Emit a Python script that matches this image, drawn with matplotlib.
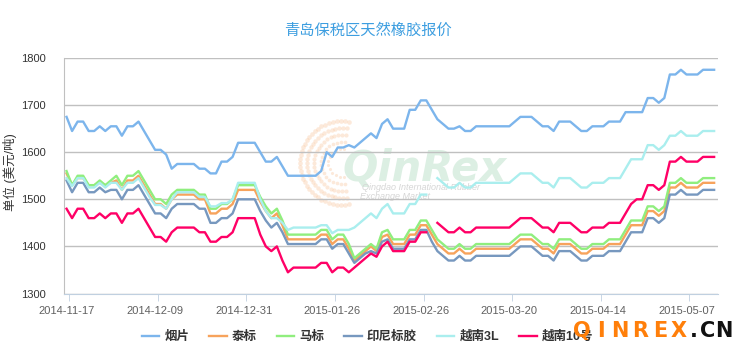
import numpy as np
import matplotlib
matplotlib.use("Agg")
import matplotlib.pyplot as plt

plt.rcParams['font.family'] = ['Liberation Sans', 'Noto Sans CJK SC', 'DejaVu Sans']

# tick labels, one every 16 trading days
dates = ["2014-11-17", "2014-12-09", "2014-12-31", "2015-01-26",
         "2015-02-26", "2015-03-20", "2015-04-14", "2015-05-07"]

# USD/ton, 118 trading days
yanpian = [1675, 1645, 1665, 1665, 1645, 1645, 1655, 1645, 1655, 1655, 1635, 1655, 1655, 1665, 1645, 1625,
           1605, 1605, 1595, 1565, 1575, 1575, 1575, 1575, 1565, 1565, 1555, 1555, 1580, 1580, 1590, 1620, 1620, 1620,
           1620, 1600, 1580, 1580, 1590, 1570,
           1550, 1550, 1550, 1550, 1550, 1550, 1560, 1600, 1590, 1610, 1610, 1615, 1610, 1620, 1630, 1640, 1630,
           1660, 1670, 1650, 1650, 1650, 1690, 1690, 1710, 1710, 1690,
           1670, 1660, 1650, 1650, 1655, 1645, 1645, 1655, 1655, 1655,
           1655, 1655, 1655, 1655, 1665, 1675, 1675, 1675, 1665, 1655, 1655, 1645, 1665, 1665, 1665, 1655, 1645, 1645, 1655, 1655,
           1655, 1665, 1665, 1665, 1685, 1685, 1685, 1685, 1715, 1715, 1705, 1715, 1765, 1765, 1775, 1765, 1765, 1765, 1775, 1775, 1775]

mabiao = [1560, 1530, 1550, 1550, 1530, 1530, 1540, 1530, 1540, 1550, 1530, 1550, 1550, 1560, 1540, 1520,
          1500, 1500, 1490, 1510, 1520, 1520, 1520, 1520, 1510, 1510, 1480, 1480, 1490, 1490, 1500, 1530, 1530, 1530,
          1530, 1505, 1485, 1470, 1480, 1455,
          1425, 1425, 1425, 1425, 1425, 1425, 1435, 1435, 1415, 1425, 1425, 1405, 1375, 1385, 1395, 1405, 1395,
          1430, 1435, 1415, 1415, 1415, 1435, 1435, 1455, 1455, 1435,
          1415, 1405, 1395, 1395, 1405, 1395, 1395, 1405, 1405, 1405,
          1405, 1405, 1405, 1405, 1415, 1425, 1425, 1425, 1415, 1405, 1405, 1395, 1415, 1415, 1415, 1405, 1395, 1395, 1405, 1405,
          1405, 1415, 1415, 1415, 1435, 1455, 1455, 1455, 1485, 1485, 1475, 1485, 1535, 1535, 1545, 1535, 1535, 1535, 1545, 1545, 1545]

taibiao = [1555, 1530, 1545, 1545, 1530, 1530, 1535, 1530, 1535, 1540, 1520, 1540, 1540, 1550, 1530, 1510,
           1490, 1490, 1480, 1500, 1510, 1510, 1510, 1510, 1500, 1500, 1470, 1470, 1480, 1480, 1490, 1520, 1520, 1520,
           1520, 1495, 1475, 1460, 1470, 1445,
           1415, 1415, 1415, 1415, 1415, 1415, 1425, 1425, 1405, 1415, 1415, 1395, 1370, 1380, 1390, 1400, 1390,
           1420, 1425, 1405, 1405, 1405, 1425, 1425, 1445, 1445, 1425,
           1405, 1395, 1385, 1385, 1395, 1385, 1385, 1395, 1395, 1395,
           1395, 1395, 1395, 1395, 1405, 1415, 1415, 1415, 1405, 1395, 1395, 1385, 1405, 1405, 1405, 1395, 1385, 1385, 1395, 1395,
           1395, 1405, 1405, 1405, 1425, 1445, 1445, 1445, 1475, 1475, 1465, 1475, 1525, 1525, 1535, 1525, 1525, 1525, 1535, 1535, 1535]

yinni = [1540, 1515, 1535, 1535, 1515, 1515, 1525, 1515, 1520, 1520, 1500, 1520, 1520, 1530, 1510, 1490,
         1470, 1470, 1460, 1480, 1490, 1490, 1490, 1490, 1480, 1480, 1450, 1450, 1460, 1460, 1470, 1500, 1500, 1500,
         1500, 1475, 1455, 1440, 1450, 1430,
         1405, 1405, 1405, 1405, 1405, 1405, 1415, 1415, 1395, 1405, 1405, 1385, 1365, 1375, 1385, 1390, 1385,
         1410, 1415, 1395, 1395, 1395, 1415, 1415, 1435, 1435, 1410,
         1390, 1380, 1370, 1370, 1380, 1370, 1370, 1380, 1380, 1380,
         1380, 1380, 1380, 1380, 1390, 1400, 1400, 1400, 1390, 1380, 1380, 1370, 1390, 1390, 1390, 1380, 1370, 1370, 1380, 1380,
         1380, 1390, 1390, 1390, 1410, 1430, 1430, 1430, 1460, 1460, 1450, 1460, 1510, 1510, 1520, 1510, 1510, 1510, 1520, 1520, 1520]

yuenan3l = [1545, 1528, 1545, 1545, 1525, 1525, 1535, 1525, 1535, 1535, 1520, 1535, 1535, 1545, 1525, 1505,
            1488, 1488, 1480, 1500, 1515, 1515, 1515, 1515, 1505, 1505, 1485, 1485, 1492, 1492, 1500, 1535, 1535, 1535,
            1535, 1500, 1475, 1460, 1460, 1450,
            1435, 1440, 1440, 1440, 1440, 1440, 1445, 1445, 1428, 1435, 1435, 1435, 1440, 1450, 1460, 1470, 1460,
            1480, 1490, 1470, 1470, 1470, 1490, 1490, 1510, 1510, None,
            1545, 1535, 1525, 1525, 1535, 1525, 1525, 1535, 1535, 1535,
            1535, 1535, 1535, 1535, 1545, 1555, 1555, 1555, 1545, 1535, 1535, 1525, 1545, 1545, 1545, 1535, 1525, 1525, 1535, 1535,
            1535, 1545, 1545, 1545, 1565, 1585, 1585, 1585, 1615, 1615, 1605, 1615, 1635, 1635, 1645, 1635, 1635, 1635, 1645, 1645, 1645]

yuenan10 = [1480, 1460, 1480, 1480, 1460, 1460, 1470, 1460, 1470, 1470, 1450, 1470, 1470, 1480, 1460, 1440,
            1420, 1420, 1410, 1430, 1440, 1440, 1440, 1440, 1430, 1430, 1410, 1410, 1420, 1420, 1430, 1460, 1460, 1460,
            1460, 1425, 1400, 1390, 1400, 1370,
            1345, 1355, 1355, 1355, 1355, 1355, 1365, 1365, 1345, 1355, 1355, 1345, 1355, 1365, 1375, 1385, 1378,
            1400, 1410, 1390, 1390, 1390, 1410, 1410, 1430, 1430, None,
            1450, 1440, 1430, 1430, 1440, 1430, 1430, 1440, 1440, 1440,
            1440, 1440, 1440, 1440, 1450, 1460, 1460, 1460, 1450, 1440, 1440, 1430, 1450, 1450, 1450, 1440, 1430, 1430, 1440, 1440,
            1440, 1450, 1450, 1450, 1470, 1490, 1500, 1500, 1530, 1530, 1520, 1530, 1580, 1580, 1590, 1580, 1580, 1580, 1590, 1590, 1590]

names = ["烟片", "泰标", "马标", "印尼标胶", "越南3L", "越南10号"]
colors = ["#7cb5ec", "#f7a35c", "#90ee7e", "#7798bf", "#aaeeee", "#ff0066"]
series = [yanpian, taibiao, mabiao, yinni, yuenan3l, yuenan10]

fig = plt.figure(figsize=(7.35, 3.51), dpi=100)

# watermark layer in pixel coords
wm = fig.add_axes([0, 0, 1, 1], zorder=0)
wm.set_xlim(0, 735)
wm.set_ylim(351, 0)
wm.axis("off")
cx, cy = 342, 163
for r, s in [(14, 5), (21, 7), (28, 9), (35, 10), (42, 11)]:
    ang = np.linspace(np.pi * 0.45, np.pi * 1.55, int(r * 0.9))
    wm.scatter(cx + r * np.cos(ang), cy - r * np.sin(ang), s=s, color="#f6b27a", alpha=0.28, lw=0)
wm.text(343, 181, "QinRex", fontsize=30, style="italic", weight="bold", color="#dcefe3", family="DejaVu Sans")
wm.text(362, 190, "Qingdao International Rubber", fontsize=6.5, style="italic", color="#d6d6d6")
wm.text(360, 199, "Exchange Market", fontsize=6.5, style="italic", color="#d6d6d6")

ax = fig.add_axes([63.5 / 735, 1 - 293.5 / 351, (718 - 63.5) / 735, (293.5 - 58) / 351], zorder=1)
ax.patch.set_alpha(0)

x = np.arange(len(yanpian))
for name, col, vals in zip(names, colors, series):
    y = np.array([np.nan if v is None else v for v in vals], dtype=float)
    ax.plot(x, y, color=col, lw=1.7, label=name, solid_joinstyle="round")

ax.set_xlim(-0.55, 117.7)
ax.set_ylim(1300, 1800)
ax.set_yticks([1300, 1400, 1500, 1600, 1700, 1800])
ax.grid(axis="y", color="#c0c0c0", lw=1)
ax.set_axisbelow(True)

ax.set_xticks(np.arange(len(dates)) * 16)
ax.set_xticklabels(dates)
ax.set_xticks(np.arange(len(dates)) * 16 + 0.5, minor=True)
ax.tick_params(axis="x", which="major", length=0, pad=9, labelsize=8, labelcolor="#606060")
ax.tick_params(axis="x", which="minor", length=5, color="#c0d0e0")
ax.tick_params(axis="y", length=0, pad=13, labelsize=8, labelcolor="#333333")

for side in ["top", "right"]:
    ax.spines[side].set_visible(False)
ax.spines["left"].set_color("#c0c0c0")
ax.spines["bottom"].set_color("#c0d0e0")

fig.text(0.5, 1 - 31 / 351, "青岛保税区天然橡胶报价", ha="center", va="center",
         fontsize=11, color="#3d9ee0")
fig.text(10 / 735, 1 - 172 / 351, "单位 (美元/吨)", rotation=90, ha="center", va="center",
         fontsize=9, color="#333333")

leg = ax.legend(loc="center", bbox_to_anchor=(0.5, 1 - 337 / 351), bbox_transform=fig.transFigure,
                ncol=6, frameon=False, handlelength=1.4, handletextpad=0.4, columnspacing=1.6,
                prop={"size": 9, "weight": "bold"})
for t in leg.get_texts():
    t.set_color("#333333")

# QINREX.CN stamp
letters = "QINREX.CN"
xs = [582, 601, 620, 640, 660, 679, 694, 708, 724]
for ch, xp in zip(letters, xs):
    wm_col = "#111111" if ch in ".CN" and xp > 690 else "#ff7f0a"
    fig.text(xp / 735, 1 - 337 / 351, ch, ha="center", va="baseline", fontsize=15,
             weight="bold", color=wm_col, family="DejaVu Sans", zorder=5)

fig.savefig("out.png", dpi=100)
